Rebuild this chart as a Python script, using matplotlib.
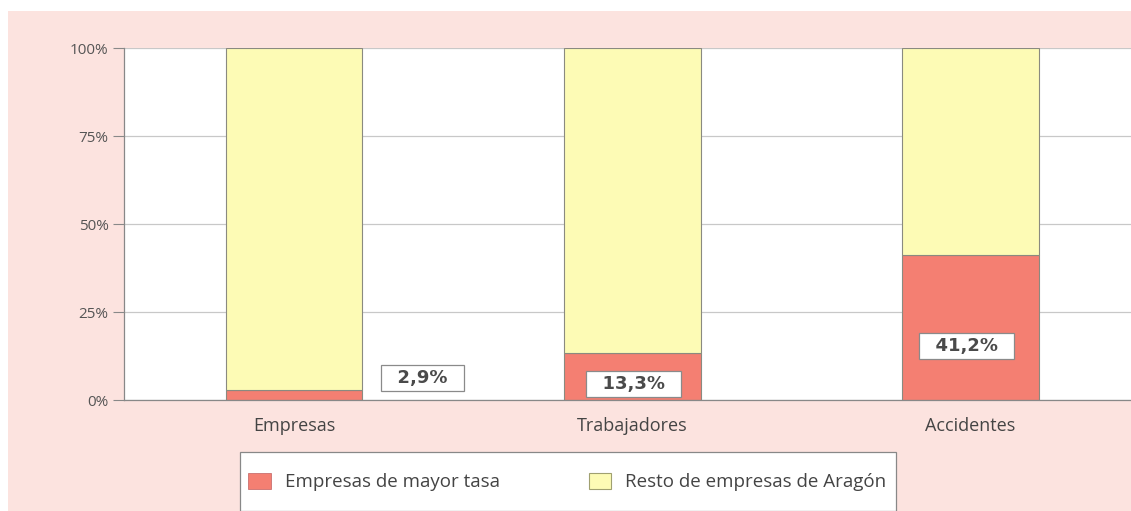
import matplotlib
matplotlib.use("Agg")
import matplotlib.pyplot as plt
from matplotlib.patches import Rectangle, Patch

categories = ["Empresas", "Trabajadores", "Accidentes"]
mayor_tasa = [2.9, 13.3, 41.2]
resto = [100 - v for v in mayor_tasa]
value_labels = ["2,9%", "13,3%", "41,2%"]
yticks = [0, 25, 50, 75, 100]
ytick_labels = ["0%", "25%", "50%", "75%", "100%"]
series_names = ["Empresas de mayor tasa", "Resto de empresas de Aragón"]

RED = "#f47f72"
YELLOW = "#fdfbb5"
PINK = "#fce3df"
EDGE = "#8a8a80"
TXT = "#555555"

plt.rcParams["font.family"] = ["Open Sans", "DejaVu Sans"]

W, H = 1131, 511
fig = plt.figure(figsize=(W / 100, H / 100), dpi=100)
fig.patch.set_facecolor("white")
bg = Rectangle((8 / W, 0), 1 - 8 / W, 1 - 11 / H, transform=fig.transFigure,
               facecolor=PINK, edgecolor="none", zorder=-10)
fig.add_artist(bg)

# legend frame box
legbox = Rectangle((240 / W, 0), 656 / W, 59 / H, transform=fig.transFigure,
                   facecolor="white", edgecolor="#888888", linewidth=0.9, zorder=-5)
fig.add_artist(legbox)

ax = fig.add_axes([124 / W, (H - 400) / H, (W - 124) / W, 352 / H])
ax.set_facecolor("white")
x = list(range(len(categories)))
bw = 0.405
ax.bar(x, mayor_tasa, width=bw, color=RED, edgecolor=EDGE, linewidth=0.8, zorder=3)
ax.bar(x, resto, width=bw, bottom=mayor_tasa, color=YELLOW, edgecolor=EDGE, linewidth=0.8, zorder=3)

ax.set_xlim(-0.503, 2.476)
ax.set_ylim(0, 100)
ax.set_yticks(yticks)
ax.set_yticklabels(ytick_labels, fontsize=11, color=TXT)
ax.set_xticks(x)
ax.set_xticklabels(categories, fontsize=13, color="#444444")
ax.tick_params(axis="x", length=0, pad=12)
ax.tick_params(axis="y", length=8, width=0.8, color="#888888", pad=3)
ax.grid(axis="y", color="#c8c8c8", linewidth=0.9, zorder=1)
for s in ["top", "right"]:
    ax.spines[s].set_visible(False)
for s in ["left", "bottom"]:
    ax.spines[s].set_color("#888888")
    ax.spines[s].set_linewidth(0.9)
ax.spines["bottom"].set_zorder(4)

label_pos = [(0.379, 6.2), (1.005, 4.5), (1.99, 15.3)]
for (lx, ly), txt in zip(label_pos, value_labels):
    ax.text(lx, ly, "  " + txt + "  ", ha="center", va="center", fontsize=13, fontweight="bold",
            family=["DejaVu Sans"], color="#4a4a4a", zorder=5,
            bbox=dict(boxstyle="square,pad=0.22", facecolor="white", edgecolor="#8a8a8a", linewidth=0.9))

handles = [Patch(facecolor=RED, edgecolor="#c06060", linewidth=0.5),
           Patch(facecolor=YELLOW, edgecolor="#a0a070", linewidth=0.8)]
leg = fig.legend(handles, series_names, loc="center left",
                 bbox_to_anchor=(248 / W, 29 / H), ncol=2,
                 frameon=False, fontsize=13.5, handlelength=1.2, handleheight=0.95,
                 borderpad=0, borderaxespad=0, handletextpad=0.75, columnspacing=4.75)
for t in leg.get_texts():
    t.set_color("#444444")

fig.savefig("out.png", dpi=100)
